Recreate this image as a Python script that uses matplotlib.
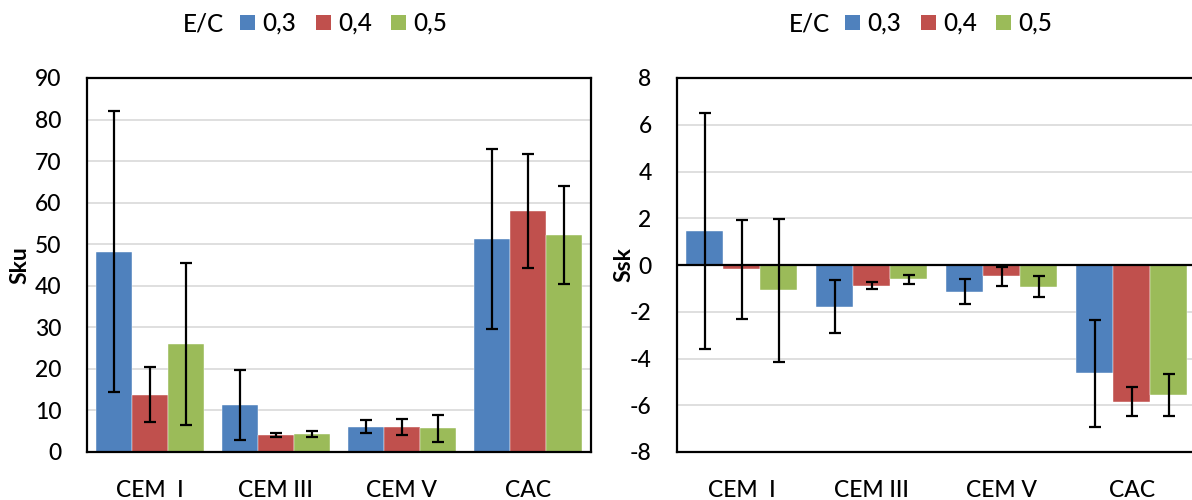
import matplotlib
matplotlib.use("Agg")
import matplotlib.pyplot as plt
import numpy as np
from matplotlib.patches import Patch

plt.rcParams['font.family'] = ['Lato', 'DejaVu Sans']
plt.rcParams['font.weight'] = 'medium'
plt.rcParams['axes.unicode_minus'] = False

categories = ["CEM  I", "CEM III", "CEM V", "CAC"]
series_labels = ["0,3", "0,4", "0,5"]
colors = ["#4F81BD", "#C0504D", "#9BBB59"]

# Sku mean values and error half-widths per E/C ratio
sku_03 = [48.2, 11.3, 6.1, 51.2]
sku_04 = [13.8, 4.1, 6.1, 57.9]
sku_05 = [26.0, 4.3, 5.7, 52.2]
sku_err_03 = [33.8, 8.4, 1.5, 21.7]
sku_err_04 = [6.7, 0.5, 1.9, 13.7]
sku_err_05 = [19.4, 0.75, 3.3, 11.8]

# Ssk mean values and error half-widths per E/C ratio
ssk_03 = [1.45, -1.78, -1.14, -4.64]
ssk_04 = [-0.18, -0.88, -0.49, -5.84]
ssk_05 = [-1.09, -0.62, -0.92, -5.56]
ssk_err_03 = [5.05, 1.13, 0.53, 2.28]
ssk_err_04 = [2.12, 0.15, 0.42, 0.63]
ssk_err_05 = [3.06, 0.21, 0.47, 0.88]

W, H = 1192, 500
fig = plt.figure(figsize=(W / 100, H / 100), dpi=100)

ax1 = fig.add_axes([86.7 / W, 1 - 452 / H, 504 / W, 374 / H])
ax2 = fig.add_axes([676.7 / W, 1 - 452 / H, 520 / W, 374 / H])

FS = 16.5
LFS = 17.5
x = np.arange(len(categories))
bw = 1 / 3.5
offsets = [-bw, 0, bw]


def draw(ax, vals, errs, ylim, ticks, ylabel):
    ax.set_xlim(-0.5, len(categories) - 0.5)
    ax.set_ylim(*ylim)
    for t in ticks:
        if ylim[0] < t < ylim[1] and t != 0:
            ax.axhline(t, color="#D9D9D9", lw=1.2, zorder=0)
    for v, e, c, off in zip(vals, errs, colors, offsets):
        ax.bar(x + off, v, width=bw, color=c, edgecolor="#FFFFFF", linewidth=0.3, zorder=2)
        ax.errorbar(x + off, v, yerr=e, fmt="none", ecolor="black",
                    elinewidth=1.6, capsize=4.3, capthick=1.6, zorder=3)
    ax.set_yticks(ticks)
    ax.set_yticklabels([str(t) for t in ticks], fontsize=FS)
    ax.set_xticks(x)
    ax.set_xticklabels(categories, fontsize=FS)
    ax.tick_params(axis="y", length=0, pad=18)
    ax.tick_params(axis="x", length=0, pad=20)
    for s in ax.spines.values():
        s.set_linewidth(1.6)
        s.set_color("black")
    ax.set_ylabel(ylabel, fontsize=FS, fontweight="bold")


draw(ax1, [sku_03, sku_04, sku_05], [sku_err_03, sku_err_04, sku_err_05],
     (0, 90), list(range(0, 91, 10)), "Sku")
draw(ax2, [ssk_03, ssk_04, ssk_05], [ssk_err_03, ssk_err_04, ssk_err_05],
     (-8, 8), list(range(-8, 9, 2)), "Ssk")
ax2.axhline(0, color="black", lw=1.6, zorder=4)

ax1.yaxis.set_label_coords(-56 / 504, 0.5)
ax2.yaxis.set_label_coords(-42 / 520, 0.5)

handles = [Patch(facecolor=c, edgecolor="none") for c in colors]
ly = 1 - 23.5 / H
for tx, hx in [(183, 240), (789, 845)]:
    fig.text(tx / W, ly, "E/C", fontsize=LFS, ha="left", va="center")
    fig.legend(handles, series_labels, loc="center left", bbox_to_anchor=(hx / W, ly),
               ncol=3, frameon=False, fontsize=LFS, borderpad=0, borderaxespad=0,
               handlelength=0.62, handleheight=0.58, handletextpad=0.3,
               columnspacing=0.8)

fig.savefig("out.png", dpi=100)
